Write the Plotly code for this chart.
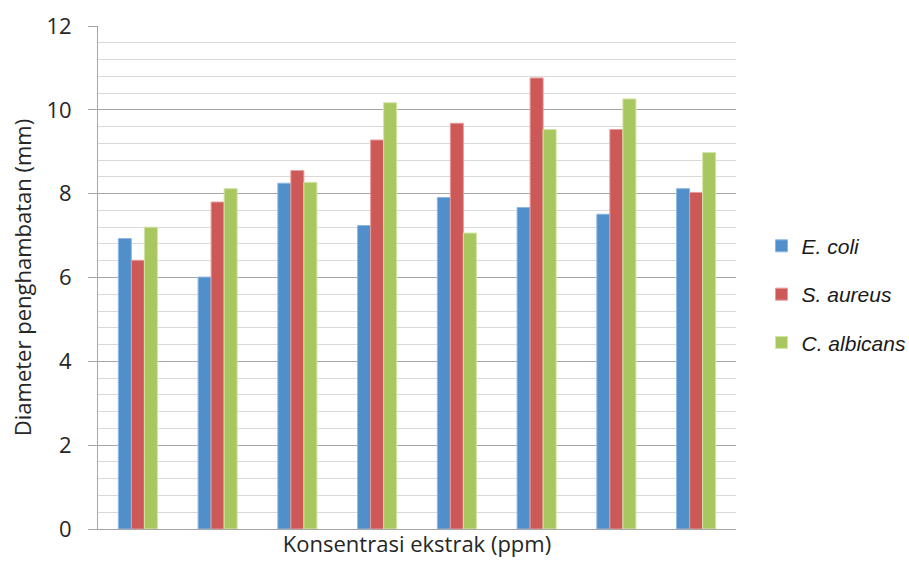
import plotly.graph_objects as go

# Inhibition zone diameters (mm) for eight extract concentrations
groups = ["K1", "K2", "K3", "K4", "K5", "K6", "K7", "K8"]
e_coli = [6.93, 6.01, 8.25, 7.24, 7.91, 7.67, 7.51, 8.12]
s_aureus = [6.41, 7.80, 8.55, 9.28, 9.68, 10.76, 9.53, 8.03]
c_albicans = [7.20, 8.12, 8.27, 10.17, 7.06, 9.53, 10.26, 8.98]

series = [
    ("E. coli", e_coli, "#508FCA", "#8DB8E2"),
    ("S. aureus", s_aureus, "#CD5858", "#E79A9A"),
    ("C. albicans", c_albicans, "#A9C760", "#D2E4A6"),
]

fig = go.Figure()
for name, vals, color, edge in series:
    fig.add_trace(go.Bar(
        x=groups, y=vals, name=name,
        legendgroup=name,
        marker=dict(color=color, line=dict(color=edge, width=1)),
    ))

text_font = dict(family="Open Sans, Lato, sans-serif", size=22, color="#262626")

fig.update_layout(
    width=909, height=563,
    margin=dict(l=98, r=173, t=26, b=34, autoexpand=False),
    paper_bgcolor="white", plot_bgcolor="white",
    barmode="group", bargap=0.51, bargroupgap=0,
    showlegend=True,
    legend=dict(
        x=1.04, y=0.603, xanchor="left", yanchor="top",
        traceorder="grouped", tracegroupgap=18,
        font=dict(family="Liberation Sans, Arial", size=21,
                  color="#1a1a1a", style="italic"),
        itemwidth=30,
        bgcolor="rgba(0,0,0,0)",
    ),
    xaxis=dict(
        showticklabels=False, showgrid=False, ticks="",
        showline=True, linecolor="#A6A6A6", linewidth=1,
        title=dict(text="Konsentrasi ekstrak (ppm)", font=text_font, standoff=7),
    ),
    yaxis=dict(
        range=[0, 12], dtick=2, tick0=0,
        showline=True, linecolor="#A6A6A6", linewidth=1,
        ticks="outside", ticklen=9, tickcolor="#A6A6A6",
        ticklabelstandoff=12,
        tickfont=text_font,
        showgrid=True, gridcolor="#A6A6A6", gridwidth=1,
        minor=dict(dtick=0.4, tick0=0, showgrid=True, gridcolor="#D9D9D9", gridwidth=1),
        zeroline=False,
        title=dict(text="Diameter penghambatan (mm)", font=text_font, standoff=8),
    ),
)

fig.write_html("out.html")
